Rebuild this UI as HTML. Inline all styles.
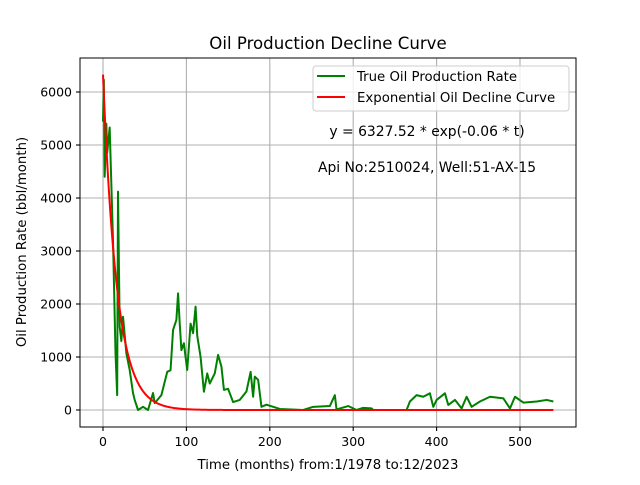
<!DOCTYPE html>
<html><head><meta charset="utf-8"><style>
body{margin:0;background:#fff;font-family:"Liberation Sans","DejaVu Sans",sans-serif}
svg text{font-family:"DejaVu Sans","Liberation Sans",sans-serif;fill:#000}
</style></head><body>
<svg id="chart" width="640" height="480" xmlns="http://www.w3.org/2000/svg">
<rect width="640" height="480" fill="#fff"/>
<g id="grid"></g>
<g id="series"></g>
<rect x="80" y="58" width="496" height="369" fill="none" stroke="#000" stroke-width="1"/>
<g id="ticks"></g>
<text x="328" y="49" font-size="16.6" text-anchor="middle">Oil Production Decline Curve</text>
<text x="328" y="469" font-size="13.3" text-anchor="middle">Time (months) from:1/1978 to:12/2023</text>
<text transform="translate(26,242) rotate(-90)" font-size="13.3" text-anchor="middle">Oil Production Rate (bbl/month)</text>
<g>
<rect x="313" y="66" width="256" height="45" rx="3" fill="#fff" fill-opacity="0.8" stroke="#ccc"/>
<line x1="317" y1="76" x2="345" y2="76" stroke="green" stroke-width="2"/>
<text x="357" y="81" font-size="13.3">True Oil Production Rate</text>
<line x1="317" y1="97" x2="345" y2="97" stroke="red" stroke-width="2"/>
<text x="357" y="102" font-size="13.3">Exponential Oil Decline Curve</text>
</g>
<text x="427" y="136" font-size="13.9" text-anchor="middle">y = 6327.52 * exp(-0.06 * t)</text>
<text x="427" y="172" font-size="13.9" text-anchor="middle">Api No:2510024, Well:51-AX-15</text>
</svg>
<script>
const months=[0,1,2,4,5,8,12,15,17,18,20,22,24,28,32,36,38,42,48,54,60,62,70,77,81,84,88,90,92,94,97,99,101,105,108,111,113,117,121,125,128,134,138,142,145,150,156,164,172,177,180,182,186,190,196,204,212,240,252,272,278,280,294,304,312,322,324,364,368,376,384,392,396,400,410,414,422,430,436,442,452,464,480,488,494,504,520,532,540];
const rates=[5440,6230,4400,5400,4850,5330,3200,1075,280,4120,1570,1300,1760,1070,755,320,190,0,60,0,320,130,280,720,750,1510,1700,2200,1630,1130,1260,1000,755,1630,1450,1950,1400,1000,345,690,500,690,1040,820,380,400,150,190,350,720,250,630,570,60,100,60,20,0,60,75,280,10,75,0,40,30,0,0,160,280,250,315,60,190,315,95,190,30,250,60,160,250,220,30,250,140,160,190,160];
const xTicks=[0,100,200,300,400,500];
const yTicks=[0,1000,2000,3000,4000,5000,6000];
const fitA=6327.52, fitK=0.06, fitEnd=540;
const sx=m=>103+m*(520-103)/500;
const sy=v=>410-v*(410-92)/6000;
const NS="http://www.w3.org/2000/svg";
const grid=document.getElementById('grid'),ticks=document.getElementById('ticks'),series=document.getElementById('series');
function mk(tag,attrs,parent){const e=document.createElementNS(NS,tag);for(const k in attrs)e.setAttribute(k,attrs[k]);parent.appendChild(e);return e;}
xTicks.forEach(t=>{const x=sx(t);
const g=mk('line',{x1:x,x2:x,y1:58,y2:427,stroke:'#b0b0b0','stroke-width':1.1},grid);


mk('line',{x1:x,x2:x,y1:427,y2:431,stroke:'#000','stroke-width':1.1},ticks);
const l=mk('text',{x:x,y:446,'font-size':12.5,'text-anchor':'middle'},ticks);l.textContent=t;

});
yTicks.forEach(t=>{const y=sy(t);
const g=mk('line',{x1:80,x2:576,y1:y,y2:y,stroke:'#b0b0b0','stroke-width':1.1},grid);


mk('line',{x1:76,x2:80,y1:y,y2:y,stroke:'#000','stroke-width':1.1},ticks);
const l=mk('text',{x:72,y:y+4.5,'font-size':12.5,'text-anchor':'end'},ticks);l.textContent=t;

});
const tp=mk('polyline',{points:months.map((m,i)=>sx(m)+','+sy(rates[i])).join(' '),fill:'none',stroke:'green','stroke-width':2,'stroke-linejoin':'round'},series);


let pts=[];for(let t=0;t<=fitEnd;t+=1)pts.push(sx(t)+','+sy(fitA*Math.exp(-fitK*t)));
const fp=mk('polyline',{points:pts.join(' '),fill:'none',stroke:'red','stroke-width':2},series);


</script>
</body></html>
